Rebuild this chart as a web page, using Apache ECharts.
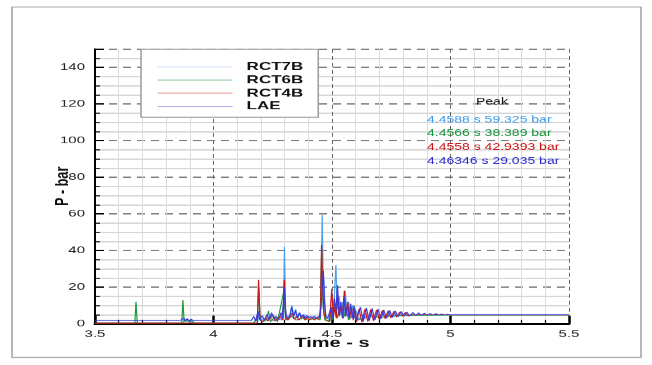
<!DOCTYPE html>
<html>
<head>
<meta charset="utf-8">
<script src="https://cdn.jsdelivr.net/npm/echarts@6.0.0/dist/echarts.min.js"></script>
<style>
  html, body { margin: 0; padding: 0; background: #fff; overflow: hidden; }
  #wrap { width: 652px; height: 365px; overflow: hidden; }
  /* the source image is squashed vertically, so draw tall and squeeze */
  #chart { width: 652px; height: 548px; transform: scaleY(0.66606); transform-origin: 0 0; }
</style>
</head>
<body>
<div id="wrap"><div id="chart"></div></div>
<script>
const xTicks = [3.5, 4, 4.5, 5, 5.5];
const yTicks = [0, 20, 40, 60, 80, 100, 120, 140];
const yMax = 150;

const seriesNames = ["RCT7B", "RCT6B", "RCT4B", "LAE"];
const seriesColors = ["#4aa0ea", "#1e9a3c", "#d01515", "#3b3bdc"];

// [time s, pressure bar]
const rct7b = [
  [3.5, 0.5], [3.87, 0.5], [3.878, 2.5], [3.885, 1], [3.893, 2.2], [3.9, 1], [3.91, 2], [3.92, 0.5],
  [4.17, 0.5], [4.178, 2.5], [4.186, 1], [4.192, 6], [4.198, 1.5], [4.21, 3], [4.22, 1.5], [4.24, 4],
  [4.25, 1.5], [4.27, 3], [4.285, 2], [4.295, 10], [4.2995, 42], [4.304, 8], [4.312, 3], [4.322, 5],
  [4.331, 10], [4.338, 4], [4.347, 8], [4.355, 3], [4.365, 6], [4.372, 3], [4.382, 5], [4.39, 3],
  [4.4, 4], [4.41, 3], [4.42, 3.8], [4.43, 3], [4.44, 3.5], [4.45, 4], [4.455, 30], [4.4588, 59.3],
  [4.462, 30], [4.467, 20], [4.472, 5], [4.48, 3], [4.49, 2], [4.497, 6], [4.503, 3], [4.51, 15],
  [4.5165, 32], [4.522, 8], [4.53, 15], [4.536, 5], [4.544, 12], [4.55, 4], [4.556, 18], [4.562, 6],
  [4.57, 12], [4.578, 4], [4.587, 10], [4.595, 3], [4.603, 7], [4.612, 2], [4.625, 5], [4.64, 3],
  [4.66, 4.5], [4.68, 3.5], [4.7, 4.5], [4.75, 4.5], [5.0, 4.8], [5.5, 4.8]
];
const rct6b = [
  [3.5, 0.3], [3.668, 0.3], [3.673, 12], [3.678, 0.3], [3.866, 0.3], [3.871, 13], [3.876, 1],
  [3.885, 2.5], [3.895, 1], [3.905, 2], [3.915, 0.3], [4.17, 0.3], [4.185, 3], [4.191, 20],
  [4.197, 2], [4.21, 1], [4.225, 3], [4.232, 7], [4.24, 1], [4.26, 4], [4.27, 1], [4.297, 18],
  [4.305, 2], [4.33, 4], [4.35, 2], [4.38, 3], [4.4, 2], [4.43, 3], [4.45, 2], [4.4566, 38.4],
  [4.462, 10], [4.47, 2], [4.49, 1], [4.495, 9], [4.5, 2], [4.515, 11], [4.522, 3], [4.54, 10],
  [4.548, 3], [4.56, 8], [4.57, 2], [4.59, 5], [4.61, 2], [4.65, 4], [4.7, 3.5], [4.8, 4.5],
  [5.0, 4.8], [5.5, 4.8]
];
const rct4b = [
  [3.5, 0.3], [4.185, 0.3], [4.19, 24], [4.196, 3], [4.205, 1], [4.22, 3], [4.23, 1.5], [4.25, 5],
  [4.26, 1.5], [4.28, 4], [4.293, 2], [4.299, 24], [4.305, 3], [4.315, 2], [4.325, 4], [4.333, 6],
  [4.34, 2.5], [4.35, 4], [4.36, 2], [4.375, 4.5], [4.385, 2], [4.395, 3.5], [4.405, 2], [4.415, 3.5],
  [4.425, 2], [4.435, 3], [4.445, 2.5], [4.452, 8], [4.4558, 42.9], [4.46, 22], [4.466, 6],
  [4.475, 2], [4.49, 1.5], [4.499, 19], [4.505, 3], [4.512, 9], [4.518, 3], [4.524, 16], [4.53, 4],
  [4.538, 10], [4.545, 3], [4.552, 18], [4.558, 4], [4.566, 12], [4.574, 3], [4.582, 9], [4.59, 2],
  [4.597, 8], [4.604, 1], [4.614, 8], [4.626, 0.8], [4.639, 8], [4.651, 1.2], [4.663, 7.8],
  [4.675, 1.6], [4.688, 7.5], [4.7, 2.2], [4.712, 7.2], [4.724, 2.8], [4.737, 7], [4.749, 3.2],
  [4.761, 6.8], [4.773, 3.6], [4.786, 6.5], [4.798, 4], [4.81, 6.2], [4.822, 4.2], [4.84, 5],
  [5.0, 4.9], [5.5, 4.9]
];
const lae = [
  [3.5, 1.8], [3.86, 1.8], [3.875, 3], [3.882, 1.5], [3.89, 2.8], [3.898, 1.4], [3.905, 2.5],
  [3.915, 1.8], [4.16, 1.8], [4.17, 4], [4.178, 1.6], [4.188, 7], [4.195, 2], [4.205, 4.5],
  [4.215, 2], [4.225, 5], [4.235, 2.2], [4.245, 6], [4.255, 2.5], [4.265, 4], [4.275, 2.2],
  [4.285, 6], [4.292, 3], [4.298, 20], [4.304, 5], [4.312, 3], [4.322, 4], [4.33, 9], [4.338, 4],
  [4.346, 7], [4.354, 3], [4.362, 6], [4.37, 3.5], [4.378, 5], [4.386, 3], [4.394, 4.5],
  [4.402, 3.2], [4.41, 4], [4.418, 3], [4.426, 4.2], [4.434, 3], [4.442, 4], [4.45, 3.2],
  [4.456, 14], [4.4635, 29], [4.468, 12], [4.474, 4], [4.482, 3], [4.49, 3.5], [4.497, 9],
  [4.503, 3], [4.51, 14], [4.516, 6], [4.523, 21], [4.53, 5], [4.537, 12], [4.544, 3], [4.551, 15],
  [4.558, 4], [4.565, 10], [4.572, 3], [4.579, 11], [4.586, 3], [4.593, 10], [4.6, 2],
  [4.608, 2], [4.62, 9], [4.632, 1.2], [4.645, 8.6], [4.657, 1.6], [4.669, 8.3], [4.681, 2],
  [4.694, 8], [4.706, 2.5], [4.718, 7.6], [4.73, 3], [4.743, 7.3], [4.755, 3.4], [4.767, 7],
  [4.779, 3.8], [4.792, 6.7], [4.804, 4.1], [4.816, 6.4], [4.828, 4.3], [4.841, 6.2], [4.853, 4.5],
  [4.865, 6], [4.877, 4.6], [4.89, 5.8], [4.902, 4.7], [4.914, 5.6], [4.926, 4.8], [4.939, 5.5],
  [4.951, 4.85], [4.963, 5.35], [4.975, 4.9], [4.988, 5.25], [5.0, 4.95], [5.5, 4.95]
];
const seriesData = [rct7b, rct6b, rct4b, lae];

const peakLabels = [
  "4.4588 s 59.325 bar",
  "4.4566 s 38.389 bar",
  "4.4558 s 42.9393 bar",
  "4.46346 s 29.035 bar"
];
const peakColors = ["#3d9be9", "#13903a", "#cc1111", "#2a2ad0"];

const fontFamily = "Arial, 'Liberation Sans', sans-serif";

const chartInstance = echarts.init(document.getElementById("chart"));

const peakText = peakLabels.map((label, i) => ({
  type: "text",
  left: 427,
  top: 173 + i * 20.6,
  z: 10,
  style: {
    text: label,
    fill: peakColors[i],
    font: "14px " + fontFamily,
  },
}));

const chartOpt = {
  backgroundColor: "#fff",
  animation: false,
  grid: {
    left: 95,
    right: 83,
    top: 73.5,
    bottom: 62,
  },
  legend: {
    orient: "vertical",
    left: 141,
    top: 74,
    padding: [18, 15, 8, 16],
    itemWidth: 75,
    itemHeight: 20,
    itemGap: 2.7,
    backgroundColor: "#fff",
    borderColor: "#9a9a9a",
    borderWidth: 1.5,
    data: seriesNames,
    itemStyle: { opacity: 0 },
    lineStyle: { width: 1.2, opacity: 0.55 },
    textStyle: {
      fontFamily: fontFamily,
      fontWeight: "bold",
      fontSize: 17,
      color: "#111",
      padding: [0, 0, 0, 9],
    },
  },
  xAxis: {
    type: "value",
    min: xTicks[0],
    max: xTicks[xTicks.length - 1],
    interval: xTicks[1] - xTicks[0],
    name: "Time - s",
    nameLocation: "middle",
    nameGap: 19,
    nameMoveOverlap: false,
    nameTextStyle: {
      fontFamily: fontFamily,
      fontWeight: "bold",
      fontSize: 20,
      color: "#111",
    },
    axisLine: {
      onZero: false,
      lineStyle: { color: "#000", width: 3 },
    },
    axisTick: {
      inside: true,
      length: 12,
      lineStyle: { color: "#000", width: 2.5 },
    },
    minorTick: {
      show: true,
      splitNumber: 5,
      length: 6,
      lineStyle: { color: "#000", width: 1.2 },
    },
    axisLabel: {
      margin: 8,
      fontFamily: fontFamily,
      fontSize: 15,
      color: "#222",
    },
    splitLine: {
      show: true,
      lineStyle: { color: "#666", width: 1, type: [6, 4.5] },
    },
    minorSplitLine: {
      show: true,
      lineStyle: { color: "#dcdcdc", width: 1 },
    },
  },
  yAxis: {
    type: "value",
    min: yTicks[0],
    max: yMax,
    interval: yTicks[1] - yTicks[0],
    name: "P - bar",
    nameLocation: "middle",
    nameGap: 23,
    nameMoveOverlap: false,
    nameTextStyle: {
      fontFamily: fontFamily,
      fontWeight: "bold",
      fontSize: 19,
      color: "#111",
    },
    axisLine: {
      show: true,
      lineStyle: { color: "#000", width: 2 },
    },
    axisTick: {
      inside: true,
      length: 9,
      lineStyle: { color: "#000", width: 2 },
    },
    minorTick: {
      show: true,
      splitNumber: 4,
      length: 5,
      lineStyle: { color: "#000", width: 1.5 },
    },
    axisLabel: {
      margin: 10,
      fontFamily: fontFamily,
      fontSize: 15,
      color: "#222",
      formatter: (v) => (yTicks.includes(v) ? String(v) : ""),
    },
    splitLine: {
      show: true,
      lineStyle: { color: "#555", width: 1.5, type: [8, 6] },
    },
    minorSplitLine: {
      show: true,
      lineStyle: { color: "#c8c8c8", width: 1.5 },
    },
  },
  graphic: [
    {
      type: "rect",
      silent: true,
      shape: { x: 12, y: 10.5, width: 629, height: 526 },
      style: { fill: null, stroke: "#a0a0a0", lineWidth: 1.5 },
    },
    {
      type: "text",
      left: 476,
      top: 146,
      z: 10,
      style: {
        text: "Peak",
        fill: "#111",
        font: "14px " + fontFamily,
      },
    },
    ...peakText,
  ],
  series: seriesData.map((data, i) => ({
    name: seriesNames[i],
    type: "line",
    symbol: "none",
    showSymbol: false,
    data: data,
    lineStyle: { color: seriesColors[i], width: 1.2 },
    itemStyle: { color: seriesColors[i] },
  })),
};

chartInstance.setOption(chartOpt);
</script>
</body>
</html>
